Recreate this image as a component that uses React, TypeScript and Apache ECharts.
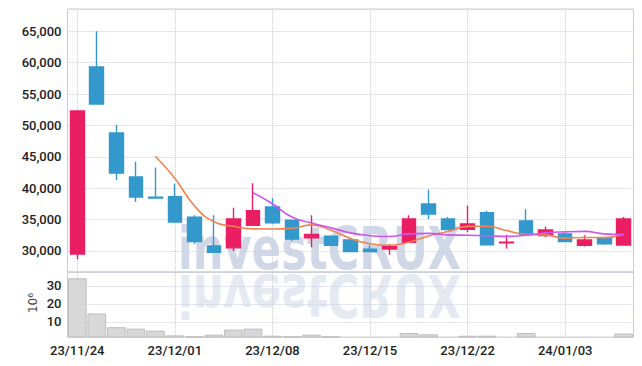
import React, { useEffect, useRef } from 'react';
import * as echarts from 'echarts';

const dates = [
  '23/11/24', '23/11/27', '23/11/28', '23/11/29', '23/11/30', '23/12/01',
  '23/12/04', '23/12/05', '23/12/06', '23/12/07', '23/12/08',
  '23/12/11', '23/12/12', '23/12/13', '23/12/14', '23/12/15',
  '23/12/18', '23/12/19', '23/12/20', '23/12/21', '23/12/22',
  '23/12/26', '23/12/27', '23/12/28', '24/01/02', '24/01/03',
  '24/01/04', '24/01/05', '24/01/08',
];
const opens = [29500, 59300, 48800, 41800, 38550, 38650, 35400, 30800, 30500, 34100, 37000, 34900, 32100, 32350, 31750, 30300, 30300, 31400, 37500, 35100, 33450, 36100, 31300, 34800, 32450, 32700, 30900, 32100, 30950];
const closes = [52300, 53400, 42400, 38600, 38450, 34600, 31500, 29800, 35100, 36400, 34500, 31900, 32650, 30900, 29900, 29900, 30700, 35100, 35900, 33400, 34300, 31000, 31400, 32650, 33350, 31500, 31750, 31150, 35100];
const lows = [28700, 53300, 41300, 37800, 38400, 34500, 31100, 29700, 30000, 34000, 34250, 31600, 30600, 30800, 29800, 29900, 29400, 31300, 35100, 33300, 33000, 31000, 30400, 32600, 32200, 31400, 30700, 31000, 30900];
const highs = [52300, 65000, 50100, 44200, 43300, 40700, 35700, 35700, 36900, 40800, 38400, 35000, 35700, 32400, 32100, 30900, 31100, 35700, 39800, 35400, 37200, 36400, 32600, 36650, 33900, 32900, 32500, 32150, 35400];
const volumes = [34.1, 14.7, 7.1, 6.3, 5.2, 2.6, 2.05, 3.0, 5.8, 6.3, 2.4, 2.05, 3.0, 2.05, 1.9, 1.75, 1.8, 3.9, 3.2, 1.8, 2.4, 2.4, 1.8, 3.9, 1.75, 1.72, 1.75, 1.75, 3.6];
const ma5 = [null, null, null, null, 45100, 41600, 37200, 34650, 33930, 33520, 33500, 33600, 34150, 33300, 32000, 31150, 30900, 31400, 32400, 33100, 33920, 33950, 33250, 32650, 32560, 32040, 32150, 32120, 32650];
const ma10 = [null, null, null, null, null, null, null, null, null, 39300, 37520, 35400, 34450, 33680, 32880, 32450, 32300, 32720, 32800, 32560, 32500, 32420, 32330, 32520, 32880, 33050, 33120, 32720, 32640];

const UP = '#e91e63';
const DOWN = '#3399cc';
const GRIDLINE = '#c8cfdf';
const FONT = 'Roboto';

export default function App() {
  const ref = useRef<HTMLDivElement>(null);

  useEffect(() => {
    if (!ref.current) return;
    const chart = echarts.init(ref.current, null, { renderer: 'svg' });

    const wmFont = 'bold 58px "DejaVu Sans"';
    let wmScale = 1;
    try {
      const ctx = document.createElement('canvas').getContext('2d');
      if (ctx) {
        ctx.font = wmFont;
        const w = ctx.measureText('investCRUX').width;
        if (w > 0) wmScale = 283 / w;
      }
    } catch (e) {}

    const gLeft = 67.5;
    const gRight = 633.5;
    const catW = (gRight - gLeft) / dates.length;

    const candleData = dates.map((_, i) => [opens[i], closes[i], lows[i], highs[i]]);

    const wmText = (fill: string) => ({
      type: 'text',
      x: 0,
      y: -52,
      style: {
        text: 'investCRUX',
        font: wmFont,
        fill,
        textAlign: 'left',
        align: 'left',
        textVerticalAlign: 'top',
        verticalAlign: 'top',
      },
    });

    const option: any = {
      animation: false,
      backgroundColor: '#ffffff',
      graphic: [
        {
          type: 'group',
          x: 178,
          y: 272,
          z: -10,
          scaleX: wmScale,
          children: [wmText('#d0d7e6')],
        },
        {
          type: 'group',
          x: 178,
          y: 272,
          z: -10,
          scaleX: wmScale,
          scaleY: -1,
          children: [wmText('#e5e9f1')],
        },
        {
          type: 'text',
          x: 33,
          y: 303,
          rotation: Math.PI / 2,
          z: 10,
          style: {
            text: '10⁶',
            font: '12px "DejaVu Sans"',
            fill: '#444',
            textAlign: 'center',
            align: 'center',
            textVerticalAlign: 'middle',
            verticalAlign: 'middle',
          },
        },
      ],
      grid: [
        { left: gLeft, width: gRight - gLeft, top: 9, height: 263, show: true, borderColor: '#cccccc', borderWidth: 1, backgroundColor: 'transparent' },
        { left: gLeft, width: gRight - gLeft, top: 272, height: 65, show: true, borderColor: '#cccccc', borderWidth: 1, backgroundColor: 'transparent' },
        { left: gLeft + catW / 2, width: catW * 25, top: 9, height: 328, show: false },
      ],
      xAxis: [
        {
          type: 'category', gridIndex: 0, data: dates, boundaryGap: true,
          axisLine: { show: false }, axisTick: { show: false }, axisLabel: { show: false }, splitLine: { show: false },
        },
        {
          type: 'category', gridIndex: 1, data: dates, boundaryGap: true,
          axisLine: { show: false }, axisTick: { show: false },
          axisLabel: { interval: 4, color: '#222', fontSize: 13, fontFamily: FONT, fontWeight: 500, margin: 7 },
          splitLine: { show: false },
        },
        {
          type: 'value', gridIndex: 2, min: 0, max: 25, interval: 5,
          axisLine: { show: false }, axisTick: { show: false }, axisLabel: { show: false },
          splitLine: { show: true, lineStyle: { color: GRIDLINE, type: 'dotted', width: 1 } },
        },
      ],
      yAxis: [
        {
          type: 'value', gridIndex: 0, min: 26650, max: 68550, splitNumber: 8, scale: true,
          axisLine: { show: false }, axisTick: { show: false },
          axisLabel: {
            color: '#222', fontSize: 13, fontFamily: FONT, fontWeight: 500, margin: 6,
            showMinLabel: false, showMaxLabel: false,
            formatter: (v: number) => v.toLocaleString('en-US'),
          },
          splitLine: { show: true, lineStyle: { color: GRIDLINE, type: 'dotted', width: 1 } },
        },
        {
          type: 'value', gridIndex: 1, min: 1.7, max: 37.6, splitNumber: 4,
          axisLine: { show: false }, axisTick: { show: false },
          axisLabel: {
            color: '#222', fontSize: 13, fontFamily: FONT, fontWeight: 500, margin: 6,
            showMinLabel: false, showMaxLabel: false,
          },
          splitLine: { show: true, lineStyle: { color: GRIDLINE, type: 'dotted', width: 1 } },
        },
        {
          type: 'value', gridIndex: 2, show: false,
        },
      ],
      series: [
        {
          type: 'candlestick',
          name: 'price',
          xAxisIndex: 0, yAxisIndex: 0,
          data: candleData,
          barWidth: '72%',
          itemStyle: {
            color: UP, color0: DOWN, borderColor: UP, borderColor0: DOWN, borderWidth: 1.4,
          },
          z: 3,
        },
        {
          type: 'line', name: 'MA5', xAxisIndex: 0, yAxisIndex: 0, data: ma5,
          smooth: true, showSymbol: false, symbol: 'none',
          lineStyle: { color: '#ee8450', width: 1.6 }, z: 4,
        },
        {
          type: 'line', name: 'MA10', xAxisIndex: 0, yAxisIndex: 0, data: ma10,
          smooth: true, showSymbol: false, symbol: 'none',
          lineStyle: { color: '#cc55ee', width: 1.6 }, z: 4,
        },
        {
          type: 'bar', name: 'volume', xAxisIndex: 1, yAxisIndex: 1, data: volumes,
          barWidth: '96%',
          itemStyle: { color: '#d8d8d8', borderColor: '#bdbdbd', borderWidth: 1 },
          z: 3,
        },
      ],
    };

    chart.setOption(option);
    return () => chart.dispose();
  }, []);

  return (
    <div
      ref={ref}
      style={{ position: 'absolute', left: 0, top: 0, width: 642, height: 366 }}
    />
  );
}
